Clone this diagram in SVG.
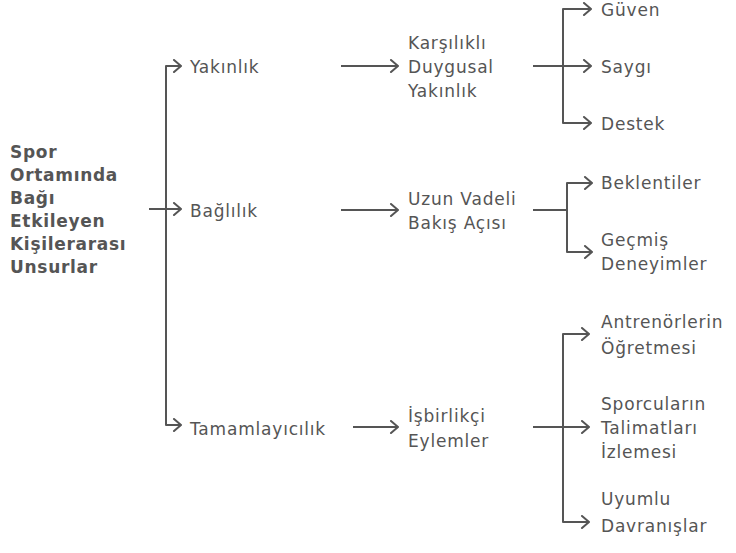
<svg xmlns="http://www.w3.org/2000/svg" width="736" height="553" viewBox="0 0 736 553">
<style>
text{font-family:"DejaVu Sans","Open Sans",sans-serif;font-size:17px;letter-spacing:0.8px;fill:#555;}
.root{font-weight:bold;letter-spacing:0.7px;}
.c{fill:none;stroke:#555;stroke-width:2;stroke-linejoin:round;}
</style>
<defs>
<marker id="ah" markerUnits="userSpaceOnUse" markerWidth="12" markerHeight="14" refX="9" refY="7" orient="auto">
<path d="M2,1 L9,7 L2,13" fill="none" stroke="#555" stroke-width="2" stroke-linecap="round" stroke-linejoin="round"/>
</marker>
</defs>
<rect width="736" height="553" fill="#fff"/>
<g id="connectors">
<path class="c" d="M149,209 H181" marker-end="url(#ah)"/>
<path class="c" d="M166,209 V66 H181" marker-end="url(#ah)"/>
<path class="c" d="M166,209 V425 H181" marker-end="url(#ah)"/>
<path class="c" d="M341,66 H398" marker-end="url(#ah)"/>
<path class="c" d="M341,210 H398" marker-end="url(#ah)"/>
<path class="c" d="M353,427 H398" marker-end="url(#ah)"/>
<path class="c" d="M533,66 H591" marker-end="url(#ah)"/>
<path class="c" d="M563,66 V9 H591" marker-end="url(#ah)"/>
<path class="c" d="M563,66 V123 H591" marker-end="url(#ah)"/>
<path class="c" d="M533,210 H567" />
<path class="c" d="M567,210 V183 H592" marker-end="url(#ah)"/>
<path class="c" d="M567,210 V252 H592" marker-end="url(#ah)"/>
<path class="c" d="M533,427 H589" marker-end="url(#ah)"/>
<path class="c" d="M563,427 V334 H589" marker-end="url(#ah)"/>
<path class="c" d="M563,427 V522 H589" marker-end="url(#ah)"/>
</g>
<g id="root"><text class="root" x="10"><tspan x="10" y="158">Spor</tspan><tspan x="10" y="181">Ortamında</tspan><tspan x="10" y="204">Bağı</tspan><tspan x="10" y="227">Etkileyen</tspan><tspan x="10" y="250">Kişilerarası</tspan><tspan x="10" y="273">Unsurlar</tspan></text></g>
<g id="yakinlik"><text x="190" y="73">Yakınlık</text></g>
<g id="baglilik"><text x="190" y="217">Bağlılık</text></g>
<g id="tamamlayicilik"><text x="190" y="435">Tamamlayıcılık</text></g>
<g id="karsilikli"><text><tspan x="408" y="49">Karşılıklı</tspan><tspan x="408" y="73">Duygusal</tspan><tspan x="408" y="97">Yakınlık</tspan></text></g>
<g id="uzun"><text><tspan x="408" y="205">Uzun Vadeli</tspan><tspan x="408" y="229">Bakış Açısı</tspan></text></g>
<g id="isbirlikci"><text><tspan x="408" y="422">İşbirlikçi</tspan><tspan x="408" y="447">Eylemler</tspan></text></g>
<g id="guven"><text x="601" y="16">Güven</text></g>
<g id="saygi"><text x="601" y="73">Saygı</text></g>
<g id="destek"><text x="601" y="130">Destek</text></g>
<g id="beklentiler"><text x="601" y="189">Beklentiler</text></g>
<g id="gecmis"><text><tspan x="601" y="246">Geçmiş</tspan><tspan x="601" y="270">Deneyimler</tspan></text></g>
<g id="antrenor"><text><tspan x="601" y="328">Antrenörlerin</tspan><tspan x="601" y="354">Öğretmesi</tspan></text></g>
<g id="sporcu"><text><tspan x="601" y="410">Sporcuların</tspan><tspan x="601" y="434">Talimatları</tspan><tspan x="601" y="458">İzlemesi</tspan></text></g>
<g id="uyumlu"><text><tspan x="601" y="505">Uyumlu</tspan><tspan x="601" y="532">Davranışlar</tspan></text></g>
</svg>
